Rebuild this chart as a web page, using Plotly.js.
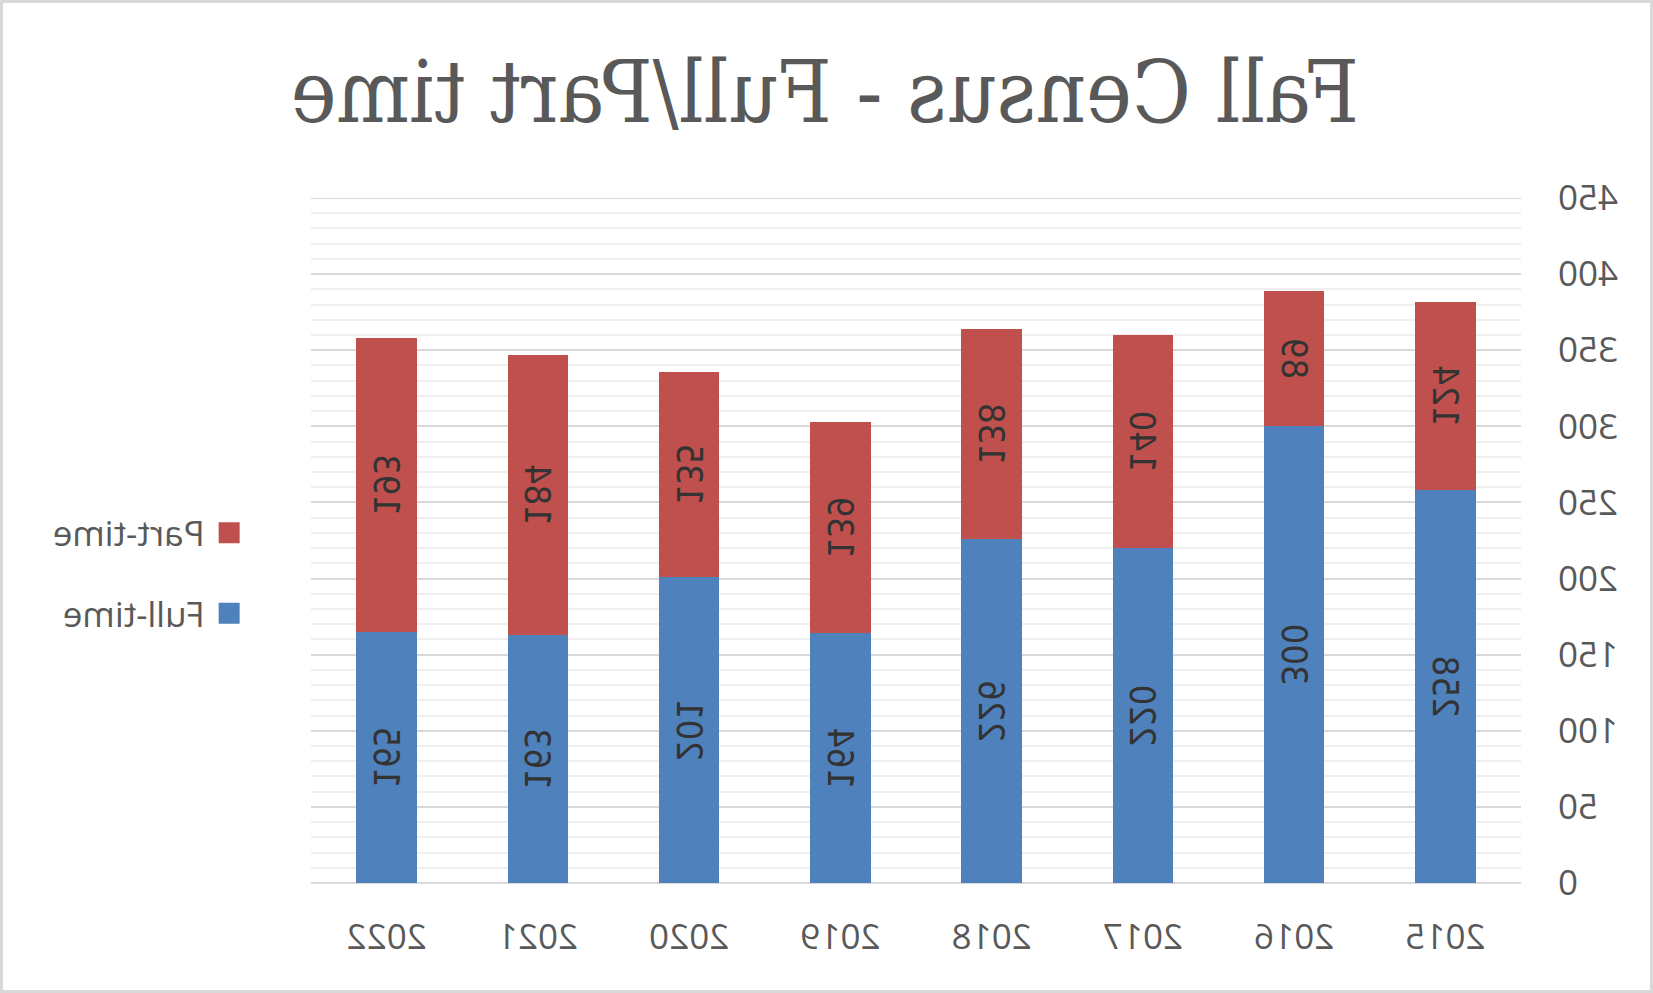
<!DOCTYPE html>
<html>
<head>
<meta charset="utf-8">
<script src="https://cdn.plot.ly/plotly-3.0.1.min.js"></script>
<style>
  html, body { margin: 0; padding: 0; background: #ffffff; }
  #wrap { position: relative; width: 1653px; height: 993px; overflow: hidden; }
  #chart { position: absolute; left: 0; top: 0; width: 1653px; height: 993px; transform: scaleX(-1); transform-origin: center center; }
  #frame { position: absolute; left: 0; top: 0; width: 1653px; height: 993px; box-sizing: border-box; border: 3px solid #d9d9d9; pointer-events: none; }
</style>
</head>
<body>
<div id="wrap">
  <div id="chart"></div>
  <div id="frame"></div>
</div>
<script>
// Data (the reference is a horizontally mirrored image; the page mirrors the whole chart the same way)
const years = ["2015", "2016", "2017", "2018", "2019", "2020", "2021", "2022"];
const fullTime = [258, 300, 220, 226, 164, 201, 163, 165];
const partTime = [124, 89, 140, 138, 139, 135, 184, 193];
const yTickValues = [0, 50, 100, 150, 200, 250, 300, 350, 400, 450];

const labelFont = { family: "DejaVu Sans Condensed, DejaVu Sans, sans-serif", size: 36, color: "#333333" };
const yMax = yTickValues[yTickValues.length - 1];

const traces = [
  {
    type: "bar", name: "Full-time", x: years, y: fullTime,
    marker: { color: "#4f81bd" },
    text: fullTime.map(String), textposition: "inside", insidetextanchor: "middle",
    textangle: -90, textfont: labelFont, constraintext: "none",
    hoverinfo: "x+y+name", legendgroup: "a", legendrank: 2
  },
  {
    type: "bar", name: "Part-time", x: years, y: partTime,
    marker: { color: "#c0504d" },
    text: partTime.map(String), textposition: "inside", insidetextanchor: "middle",
    textangle: -90, textfont: labelFont, constraintext: "none",
    hoverinfo: "x+y+name", legendgroup: "b", legendrank: 1
  }
];

const layout = {
  width: 1653, height: 993,
  margin: { l: 132, r: 311, t: 198, b: 110 },
  paper_bgcolor: "#ffffff", plot_bgcolor: "#ffffff",
  barmode: "stack", bargap: 0.6,
  title: {
    text: "Fall Census - Full/Part time",
    font: { family: "DejaVu Serif Condensed, DejaVu Serif, serif", size: 86, color: "#595959" },
    x: 0.501, xref: "container", xanchor: "center",
    y: 0.907, yref: "container", yanchor: "middle"
  },
  font: { family: "Open Sans, sans-serif", size: 35, color: "#595959" },
  xaxis: {
    type: "category", categoryarray: years, categoryorder: "array",
    showgrid: false, showline: false, zeroline: false, ticks: "",
    tickfont: { family: "Open Sans, sans-serif", size: 35, color: "#595959" },
    ticklabelstandoff: 30
  },
  yaxis: {
    range: [0, yMax], tickvals: yTickValues, ticktext: yTickValues.map(String),
    showgrid: true, gridcolor: "#d9d9d9", gridwidth: 2,
    zeroline: true, zerolinecolor: "#d9d9d9", zerolinewidth: 2,
    showline: false, ticks: "",
    minor: { dtick: 10, showgrid: true, gridcolor: "#efefef", gridwidth: 2, ticks: "" },
    tickfont: { family: "Open Sans, sans-serif", size: 35, color: "#595959" },
    ticklabelstandoff: 36
  },
  shapes: [
    { type: "line", xref: "paper", yref: "y", x0: 0, x1: 1, y0: yMax, y1: yMax,
      line: { color: "#d9d9d9", width: 2 }, layer: "below" }
  ],
  legend: {
    xref: "container", yref: "container",
    x: 0.852, xanchor: "left", y: 0.423, yanchor: "middle",
    traceorder: "grouped", tracegroupgap: 32,
    font: { family: "Open Sans, sans-serif", size: 35, color: "#595959" },
    bgcolor: "rgba(0,0,0,0)"
  },
  showlegend: true
};

Plotly.newPlot("chart", traces, layout, { displayModeBar: false, staticPlot: true }).then(function () {
  document.querySelectorAll("#chart .legendpoints path").forEach(function (p) {
    p.setAttribute("d", "M6,10.5H-15V-10.5H6Z");
    p.style.strokeWidth = "0";
  });
});
</script>
</body>
</html>
